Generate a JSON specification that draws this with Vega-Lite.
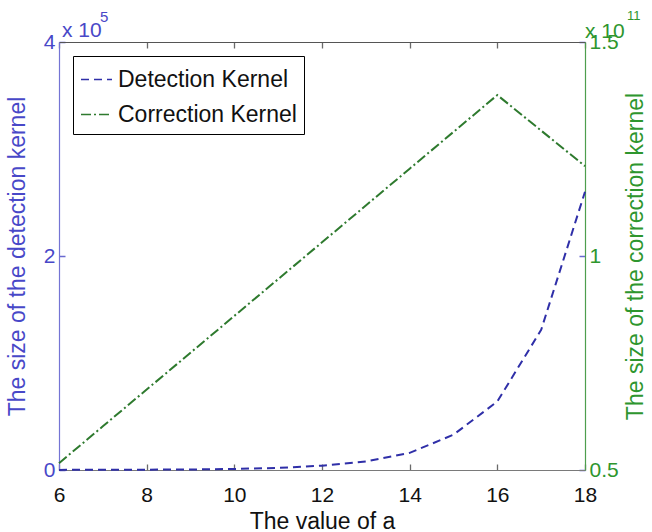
{
  "$schema": "https://vega.github.io/schema/vega-lite/v6.json",
  "width": 526,
  "height": 428,
  "autosize": {"type": "none"},
  "padding": {"left": 59, "top": 42, "right": 67, "bottom": 62},
  "config": {
    "view": {"stroke": null},
    "font": "Liberation Sans",
    "axis": {
      "grid": true,
      "gridWidth": 1.3,
      "ticks": false,
      "labelFont": "Liberation Sans",
      "titleFont": "Liberation Sans",
      "labelFontSize": 21,
      "titleFontSize": 23,
      "titleFontWeight": "normal",
      "labelFlush": false,
      "labelOverlap": false,
      "domainWidth": 1.2
    },
    "legend": {
      "orient": "top-left",
      "offset": 14,
      "strokeColor": "#000000",
      "fillColor": "#ffffff",
      "padding": 7,
      "labelFont": "Liberation Sans",
      "labelFontSize": 23,
      "labelColor": "#111111",
      "labelLimit": 400,
      "labelOffset": 5,
      "rowPadding": 6,
      "symbolType": "stroke",
      "symbolSize": 961,
      "symbolStrokeWidth": 1.6
    }
  },
  "data": {
    "values": [
      {"a": 6, "series": "Detection Kernel", "value": 100},
      {"a": 7, "series": "Detection Kernel", "value": 200},
      {"a": 8, "series": "Detection Kernel", "value": 300},
      {"a": 9, "series": "Detection Kernel", "value": 500},
      {"a": 10, "series": "Detection Kernel", "value": 1000},
      {"a": 11, "series": "Detection Kernel", "value": 2000},
      {"a": 12, "series": "Detection Kernel", "value": 4000},
      {"a": 13, "series": "Detection Kernel", "value": 8000},
      {"a": 14, "series": "Detection Kernel", "value": 16000},
      {"a": 15, "series": "Detection Kernel", "value": 33000},
      {"a": 16, "series": "Detection Kernel", "value": 64000},
      {"a": 17, "series": "Detection Kernel", "value": 131000},
      {"a": 18, "series": "Detection Kernel", "value": 260000},
      {"a": 6, "series": "Correction Kernel", "value": 51600000000},
      {"a": 7, "series": "Correction Kernel", "value": 60200000000},
      {"a": 8, "series": "Correction Kernel", "value": 68800000000},
      {"a": 9, "series": "Correction Kernel", "value": 77400000000},
      {"a": 10, "series": "Correction Kernel", "value": 86000000000},
      {"a": 11, "series": "Correction Kernel", "value": 94600000000},
      {"a": 12, "series": "Correction Kernel", "value": 103200000000},
      {"a": 13, "series": "Correction Kernel", "value": 111800000000},
      {"a": 14, "series": "Correction Kernel", "value": 120400000000},
      {"a": 15, "series": "Correction Kernel", "value": 129000000000},
      {"a": 16, "series": "Correction Kernel", "value": 137600000000},
      {"a": 17, "series": "Correction Kernel", "value": 129300000000},
      {"a": 18, "series": "Correction Kernel", "value": 121000000000}
    ]
  },
  "resolve": {"scale": {"y": "independent"}, "axis": {"x": "independent"}},
  "layer": [
    {
      "layer": [
        {
          "transform": [{"filter": "datum.series === 'Detection Kernel'"}],
          "mark": {"type": "line", "strokeWidth": 2},
          "encoding": {
            "x": {
              "field": "a", "type": "quantitative",
              "scale": {"domain": [6, 18], "nice": false, "zero": false},
              "axis": {
                "orient": "bottom", "values": [6, 8, 10, 12, 14, 16, 18],
                "gridDash": [6, 416, 6, 3000],
                "title": "The value of a", "domainColor": "#7a7a7a", "gridColor": "#6a6a6a",
                "labelColor": "#111111", "titleColor": "#111111", "labelPadding": 14, "titlePadding": 5
              }
            },
            "y": {
              "field": "value", "type": "quantitative",
              "scale": {"domain": [0, 400000], "nice": false, "zero": false},
              "axis": {
                "orient": "left", "values": [0, 200000, 400000],
                "labelExpr": "format(datum.value / 100000, '~g')",
                "gridDash": [6, 514, 6, 3000],
                "title": "The size of the detection kernel",
                "domainColor": "#7474d4", "gridColor": "#6a6ad0",
                "labelColor": "#4848c8", "titleColor": "#4848c8",
                "labelPadding": 4, "titlePadding": 14
              }
            },
            "color": {
              "field": "series", "type": "nominal",
              "scale": {"domain": ["Detection Kernel", "Correction Kernel"], "range": ["#2f2fa8", "#2e7a2e"]},
              "legend": {"title": null}
            },
            "strokeDash": {
              "field": "series", "type": "nominal",
              "scale": {"domain": ["Detection Kernel", "Correction Kernel"], "range": [[8, 5], [10, 3, 2, 3]]},
              "legend": {"title": null}
            }
          }
        },
        {
          "data": {"values": [{"t": "x 10"}]},
          "mark": {"type": "text", "align": "left", "baseline": "alphabetic", "dx": 3, "dy": -5, "fontSize": 21, "color": "#4848c8"},
          "encoding": {
            "x": {"datum": 6, "type": "quantitative"},
            "y": {"datum": 400000, "type": "quantitative"},
            "text": {"field": "t"}
          }
        },
        {
          "data": {"values": [{"t": "5"}]},
          "mark": {"type": "text", "align": "left", "baseline": "alphabetic", "dx": 41, "dy": -20, "fontSize": 15, "color": "#4848c8"},
          "encoding": {
            "x": {"datum": 6, "type": "quantitative"},
            "y": {"datum": 400000, "type": "quantitative"},
            "text": {"field": "t"}
          }
        }
      ]
    },
    {
      "layer": [
        {
          "transform": [{"filter": "datum.series === 'Correction Kernel'"}],
          "mark": {"type": "line", "strokeWidth": 2},
          "encoding": {
            "x": {
              "field": "a", "type": "quantitative",
              "scale": {"domain": [6, 18], "nice": false, "zero": false},
              "axis": {
                "orient": "top", "values": [6, 18],
                "labels": false, "title": null, "grid": false,
                "domainColor": "#555555"
              }
            },
            "y": {
              "field": "value", "type": "quantitative",
              "scale": {"domain": [50000000000, 150000000000], "nice": false, "zero": false},
              "axis": {
                "orient": "right", "values": [50000000000, 100000000000, 150000000000],
                "labelExpr": "format(datum.value / 100000000000, '~g')",
                "grid": false,
                "title": "The size of the correction kernel",
                "titleAngle": 270, "titleBaseline": "top",
                "domainColor": "#4e9e4e",
                "labelColor": "#2e962e", "titleColor": "#2e962e",
                "labelPadding": 4, "titlePadding": 6
              }
            },
            "color": {
              "field": "series", "type": "nominal",
              "scale": {"domain": ["Detection Kernel", "Correction Kernel"], "range": ["#2f2fa8", "#2e7a2e"]},
              "legend": {"title": null}
            },
            "strokeDash": {
              "field": "series", "type": "nominal",
              "scale": {"domain": ["Detection Kernel", "Correction Kernel"], "range": [[8, 5], [10, 3, 2, 3]]},
              "legend": {"title": null}
            }
          }
        },
        {
          "data": {"values": [{"t": "x 10"}]},
          "mark": {"type": "text", "align": "left", "baseline": "alphabetic", "dx": 0, "dy": -4, "fontSize": 21, "color": "#2e962e"},
          "encoding": {
            "x": {"datum": 18, "type": "quantitative"},
            "y": {"datum": 150000000000, "type": "quantitative"},
            "text": {"field": "t"}
          }
        },
        {
          "data": {"values": [{"t": "11"}]},
          "mark": {"type": "text", "align": "left", "baseline": "alphabetic", "dx": 42, "dy": -22, "fontSize": 13, "color": "#2e962e"},
          "encoding": {
            "x": {"datum": 18, "type": "quantitative"},
            "y": {"datum": 150000000000, "type": "quantitative"},
            "text": {"field": "t"}
          }
        }
      ]
    }
  ]
}
